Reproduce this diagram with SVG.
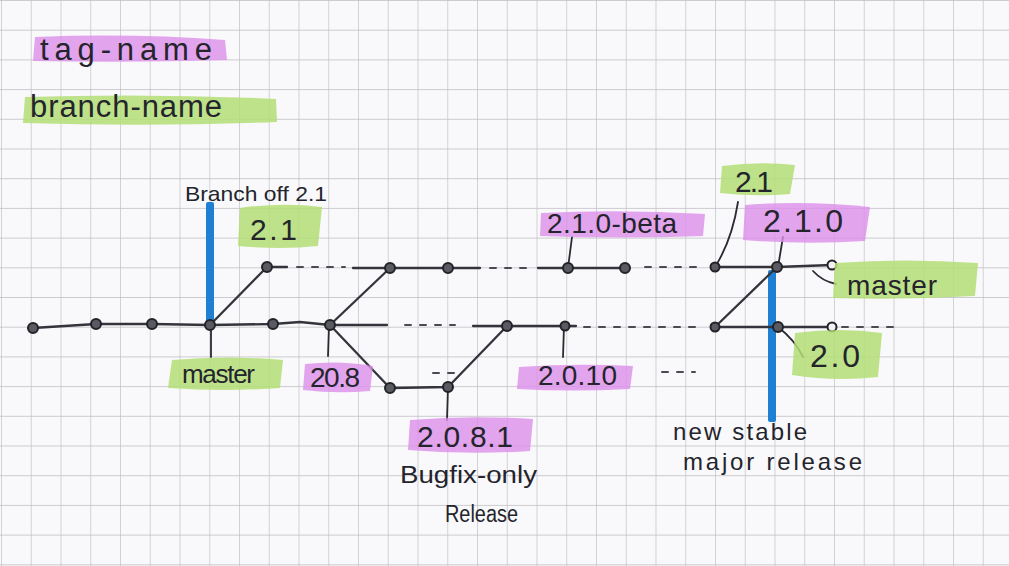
<svg xmlns="http://www.w3.org/2000/svg" width="1009" height="566" viewBox="0 0 1009 566">
<defs>
<pattern id="grid" x="1" y="0" width="29.75" height="29.7" patternUnits="userSpaceOnUse">
<path d="M0 0 V29.7 M0 0 H29.75" fill="none" stroke="#bdbdc2" stroke-width="1.3"/>
</pattern>
<style>
.ln{fill:none;stroke:#34343c;stroke-width:2.3;stroke-linecap:round;stroke-linejoin:round}
.dash{fill:none;stroke:#4a4a52;stroke-width:2;stroke-dasharray:6 9;stroke-linecap:round}
.tick{fill:none;stroke:#2a2a32;stroke-width:1.8;stroke-linecap:round}
.cm{fill:#5a5a62;stroke:#222228;stroke-width:2}
.cmo{fill:#f2f2f4;stroke:#222228;stroke-width:2}
.pink{fill:#dc8fea;opacity:0.8}
.green{fill:#b4de74;opacity:0.85}
.blue{fill:#1f80d3}
.t{font-family:"Liberation Sans","DejaVu Sans",sans-serif;fill:#24242c}
</style>
</defs>
<rect width="1009" height="566" fill="#f9f9fb"/>
<rect width="1009" height="566" fill="url(#grid)"/>

<g id="legend">
<g id="legend-tag">
<path class="pink" d="M35 37 Q130 33 225 40 L227 60 Q130 63 33 61 Z"/>
<text class="t" x="40" y="60" font-size="31" textLength="172" lengthAdjust="spacing">tag-name</text>
</g>
<g id="legend-branch">
<path class="green" d="M25 97 Q150 93 276 99 L277 122 Q150 127 23 123 Z"/>
<text class="t" x="30" y="117" font-size="31" textLength="192" lengthAdjust="spacing">branch-name</text>
</g>
</g>

<g id="markers">
<rect id="bar-branch-off" class="blue" x="206" y="202" width="8" height="122" rx="2"/>
<rect id="bar-stable" class="blue" x="768" y="270" width="8" height="152" rx="2"/>
</g>

<g id="connectors">
<path class="ln" d="M33 328 L96 324 L152 324 L210 325 L273 324 L300 322 L330 325 L387 325"/>
<path class="dash" d="M405 325 H455"/>
<path class="ln" d="M473 326 L507 326 L565 326 L576 326"/>
<path class="dash" d="M584 327 H700"/>
<path class="ln" d="M715 327 L778 327 L832 327"/>
<path class="dash" d="M842 327 H895"/>

<path class="ln" d="M267 267 L287 267"/>
<path class="dash" d="M297 267 H345"/>
<path class="ln" d="M353 268 L390 268 L448 268 L480 268"/>
<path class="dash" d="M490 268 H530"/>
<path class="ln" d="M538 268 L568 268 L625 268"/>
<path class="dash" d="M645 267 H697"/>
<path class="ln" d="M715 267 L777 267 L832 265"/>

<path class="ln" d="M210 325 L267 267"/>
<path class="ln" d="M330 325 L390 268"/>
<path class="ln" d="M330 325 L390 388 L448 387 L507 326"/>
<path class="ln" d="M715 327 L777 267"/>

<path class="dash" d="M433 373 H457"/>
<path class="dash" d="M662 372 H695"/>

<path class="tick" d="M211 325 L211 357"/>
<path class="tick" d="M329 325 L328 356"/>
<path class="tick" d="M448 387 L447 420"/>
<path class="tick" d="M564 326 L563 357"/>
<path class="tick" d="M568 268 L572 237"/>
<path class="tick" d="M715 267 Q732 240 738 202"/>
<path class="tick" d="M778 267 L783 237"/>
<path class="tick" d="M813 271 Q822 281 836 284"/>
<path class="tick" d="M778 327 Q795 340 803 357"/>
</g>

<g id="commits">
<circle id="c1" class="cm" cx="33" cy="328" r="5"/>
<circle id="c2" class="cm" cx="96" cy="324" r="5"/>
<circle id="c3" class="cm" cx="152" cy="324" r="5"/>
<circle id="c4" class="cm" cx="210" cy="325" r="5"/>
<circle id="c5" class="cm" cx="273" cy="324" r="5"/>
<circle id="c6" class="cm" cx="330" cy="325" r="5"/>
<circle id="c7" class="cm" cx="507" cy="326" r="5"/>
<circle id="c8" class="cm" cx="565" cy="326" r="4.5"/>
<circle id="c9" class="cm" cx="715" cy="327" r="4.5"/>
<circle id="c10" class="cm" cx="778" cy="327" r="5"/>
<circle id="c11" class="cmo" cx="832" cy="327" r="4.5"/>
<circle id="u1" class="cm" cx="267" cy="267" r="5"/>
<circle id="u2" class="cm" cx="390" cy="268" r="5"/>
<circle id="u3" class="cm" cx="448" cy="268" r="5"/>
<circle id="u4" class="cm" cx="568" cy="268" r="5"/>
<circle id="u5" class="cm" cx="625" cy="268" r="5"/>
<circle id="u6" class="cm" cx="715" cy="267" r="4.5"/>
<circle id="u7" class="cm" cx="777" cy="267" r="5"/>
<circle id="u8" class="cmo" cx="832" cy="265" r="4.5"/>
<circle id="b1" class="cm" cx="390" cy="388" r="5"/>
<circle id="b2" class="cm" cx="448" cy="387" r="5"/>
</g>

<g id="labels">
<g id="lbl-branch-off">
<text class="t" x="185" y="201" font-size="21" textLength="142" lengthAdjust="spacingAndGlyphs">Branch off 2.1</text>
</g>
<g id="lbl-21-left">
<path class="green" d="M240 208 Q282 202 322 207 L318 246 Q280 250 238 246 Z"/>
<text class="t" x="250" y="240" font-size="30" textLength="47" lengthAdjust="spacing">2.1</text>
</g>
<g id="lbl-master-left">
<path class="green" d="M172 360 Q228 355 283 360 L280 388 Q225 392 168 388 Z"/>
<text class="t" x="182" y="383" font-size="26" textLength="73" lengthAdjust="spacing">master</text>
</g>
<g id="lbl-208">
<path class="pink" d="M305 364 Q340 360 373 366 L370 391 Q336 394 303 390 Z"/>
<text class="t" x="310" y="387" font-size="28" textLength="50" lengthAdjust="spacing">20.8</text>
</g>
<g id="lbl-2081">
<path class="pink" d="M410 420 Q470 415 533 419 L530 451 Q468 455 408 450 Z"/>
<text class="t" x="417" y="447" font-size="30" textLength="96" lengthAdjust="spacing">2.0.8.1</text>
</g>
<g id="lbl-bugfix">
<text class="t" x="400" y="483" font-size="23" textLength="137" lengthAdjust="spacingAndGlyphs">Bugfix-only</text>
<text class="t" x="445" y="522" font-size="23" textLength="73" lengthAdjust="spacingAndGlyphs">Release</text>
</g>
<g id="lbl-2010">
<path class="pink" d="M519 367 Q575 363 633 366 L630 389 Q572 392 517 389 Z"/>
<text class="t" x="538" y="385" font-size="28" textLength="79" lengthAdjust="spacing">2.0.10</text>
</g>
<g id="lbl-210beta">
<path class="pink" d="M541 213 Q620 209 705 214 L703 236 Q620 239 540 236 Z"/>
<text class="t" x="547" y="233" font-size="28" textLength="130" lengthAdjust="spacing">2.1.0-beta</text>
</g>
<g id="lbl-21-right">
<path class="green" d="M722 166 Q760 161 795 165 L790 194 Q755 197 720 193 Z"/>
<text class="t" x="735" y="192" font-size="30" textLength="38" lengthAdjust="spacing">2.1</text>
</g>
<g id="lbl-210">
<path class="pink" d="M745 205 Q805 200 870 207 L865 241 Q805 245 743 240 Z"/>
<text class="t" x="763" y="232" font-size="32" textLength="80" lengthAdjust="spacing">2.1.0</text>
</g>
<g id="lbl-master-right">
<path class="green" d="M835 263 Q905 258 978 263 L975 296 Q905 300 833 298 Z"/>
<text class="t" x="847" y="295" font-size="28" textLength="90" lengthAdjust="spacing">master</text>
</g>
<g id="lbl-20">
<path class="green" d="M795 333 Q840 327 882 333 L878 377 Q835 382 792 375 Z"/>
<text class="t" x="810" y="367" font-size="32" textLength="50" lengthAdjust="spacing">2.0</text>
</g>
<g id="lbl-stable">
<text class="t" x="673" y="440" font-size="24" textLength="134" lengthAdjust="spacing">new stable</text>
<text class="t" x="683" y="470" font-size="24" textLength="179" lengthAdjust="spacing">major release</text>
</g>
</g>
</svg>
